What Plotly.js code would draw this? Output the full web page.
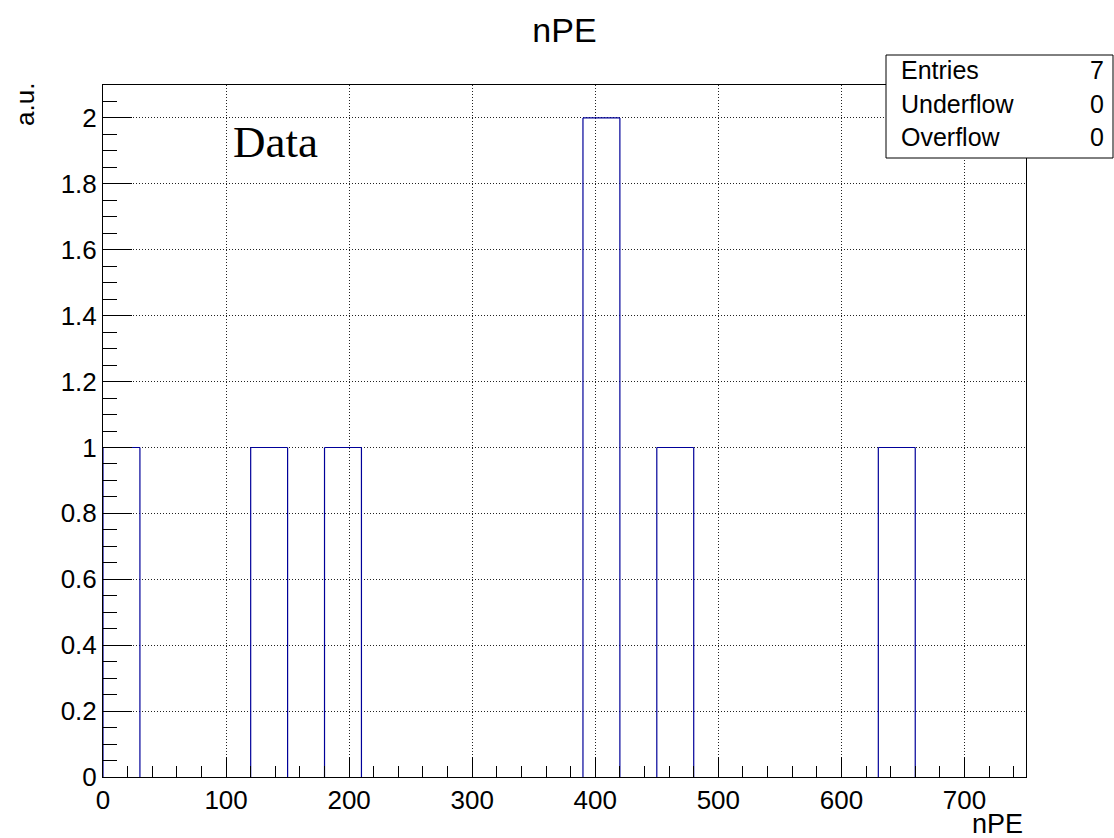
<!DOCTYPE html>
<html>
<head>
<meta charset="utf-8">
<script src="https://cdn.plot.ly/plotly-3.0.1.min.js"></script>
<style>html,body{margin:0;padding:0;background:#fff;}#chart{width:1114px;height:838px;}</style>
</head>
<body>
<div id="chart"></div>
<script>
// Histogram data
const xMin = 0;
const binWidth = 30;
const counts = [1,0,0,0,1,0,1,0,0,0,0,0,0,2,0,1,0,0,0,0,0,1,0,0,0];
const statLabels = ["Entries", "Underflow", "Overflow"];
const statValues = ["7", "0", "0"];
const titleText = "nPE";
const xTitle = "nPE";
const yTitle = "a.u.";
const legendText = "Data";

// Histogram outline (tops and vertical steps) built from bin edges and counts
const nb = counts.length;
const edge = i => xMin + i * binWidth;
const xs = [], ys = [];
for (let i = 0; i < nb; i++) {
  if (counts[i] > 0) { xs.push(edge(i), edge(i + 1), null); ys.push(counts[i], counts[i], null); }
}
for (let j = 0; j <= nb; j++) {
  const a = j > 0 ? counts[j - 1] : 0, b = j < nb ? counts[j] : 0;
  if (a !== b) { xs.push(edge(j), edge(j), null); ys.push(a, b, null); }
}

const L = 103, R = 88, T = 85, B = 61, W = 1114, H = 838;
const pw = W - L - R, ph = H - T - B;
const px = v => (v - L) / pw;
const py = v => (H - B - v) / ph;

const FONT = "Liberation Sans, Arial, Helvetica, sans-serif";

const trace = {
  x: xs, y: ys, type: "scatter", mode: "lines", connectgaps: false,
  line: {color: "#000099", width: 1.2},
  hoverinfo: "skip", showlegend: false
};

const annotations = [
  {text: legendText, xref: "paper", yref: "paper", x: px(231), y: py(142),
   xanchor: "left", yanchor: "middle", showarrow: false,
   font: {family: "Liberation Serif, Times New Roman, serif", size: 45, color: "#000"}},
  {text: yTitle, xref: "paper", yref: "paper", x: px(25), y: py(105),
   xanchor: "center", yanchor: "middle", textangle: -90, showarrow: false,
   font: {family: FONT, size: 26, color: "#000"}},
  {text: xTitle, xref: "paper", yref: "paper", x: px(1025), y: py(824),
   xanchor: "right", yanchor: "middle", showarrow: false,
   font: {family: FONT, size: 27, color: "#000"}}
];
const rowY = [69.5, 103.7, 137];
statLabels.forEach((lab, i) => {
  annotations.push({text: lab, xref: "paper", yref: "paper", x: px(899), y: py(rowY[i]),
    xanchor: "left", yanchor: "middle", showarrow: false,
    font: {family: FONT, size: 25, color: "#000"}});
  annotations.push({text: statValues[i], xref: "paper", yref: "paper", x: px(1106), y: py(rowY[i]),
    xanchor: "right", yanchor: "middle", showarrow: false,
    font: {family: FONT, size: 25, color: "#000"}});
});

const layout = {
  width: W, height: H,
  margin: {l: L, r: R, t: T, b: B, pad: 0},
  paper_bgcolor: "#fff", plot_bgcolor: "#fff",
  showlegend: false,
  title: {text: titleText, x: 0.5, xref: "paper", y: 1 - 30 / H, yref: "container",
          xanchor: "center", yanchor: "middle",
          font: {family: FONT, size: 34, color: "#000"}},
  xaxis: {
    range: [0, 750], dtick: 100, tick0: 0, layer: "above traces",
    ticks: "inside", ticklen: 20, tickwidth: 1, tickcolor: "#000",
    showline: true, linecolor: "#000", linewidth: 1, mirror: true,
    showgrid: true, gridcolor: "#222", griddash: "1px,2px", gridwidth: 1,
    zeroline: false,
    tickfont: {family: FONT, size: 26, color: "#000"},
    minor: {dtick: 20, ticks: "inside", ticklen: 11, tickwidth: 1, tickcolor: "#000", showgrid: false}
  },
  yaxis: {
    range: [0, 2.1], dtick: 0.2, tick0: 0, layer: "above traces",
    ticks: "inside", ticklen: 29, tickwidth: 1, tickcolor: "#000",
    showline: true, linecolor: "#000", linewidth: 1, mirror: true,
    showgrid: true, gridcolor: "#222", griddash: "1px,2px", gridwidth: 1,
    zeroline: false,
    tickfont: {family: FONT, size: 26, color: "#000"},
    minor: {dtick: 0.05, ticks: "inside", ticklen: 14, tickwidth: 1, tickcolor: "#000", showgrid: false}
  },
  shapes: [
    {type: "rect", xref: "paper", yref: "paper", x0: px(886), x1: px(1113), y0: py(158), y1: py(55),
     line: {color: "#000", width: 1}, fillcolor: "#fff", layer: "above"}
  ],
  annotations: annotations
};

Plotly.newPlot("chart", [trace], layout, {staticPlot: true, displayModeBar: false});
</script>
</body>
</html>
